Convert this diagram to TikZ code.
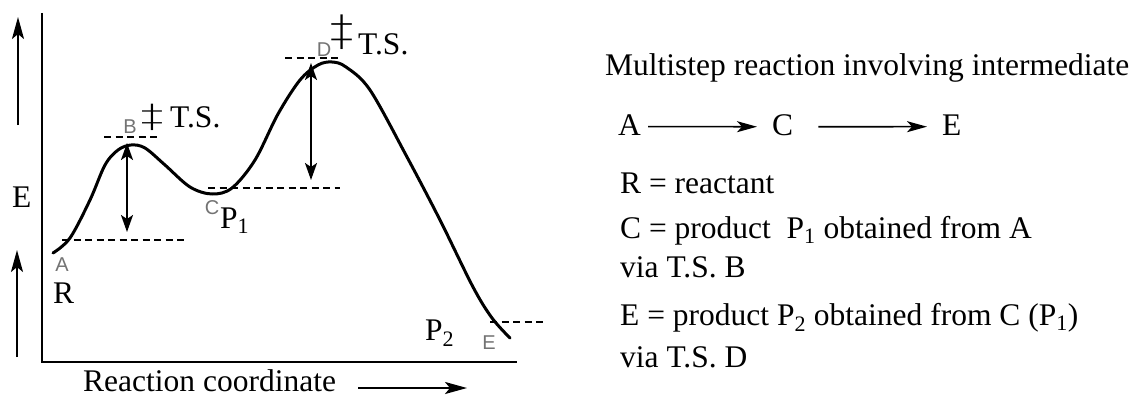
\documentclass[tikz,border=0pt]{standalone}
\usepackage{fontspec}
\setmainfont{Liberation Serif}
\newfontfamily\lblfont{Liberation Sans}
\newfontfamily\ddfont{DejaVu Sans ExtraLight}
\usetikzlibrary{arrows.meta}
\begin{document}
\begin{tikzpicture}[x=1pt,y=-1pt,
  lbl/.style={inner sep=0pt, anchor=base west, font=\fontsize{31.5}{37}\selectfont},
  ptlbl/.style={inner sep=0pt, font=\lblfont\fontsize{20}{21}\selectfont, text=black!55},
  ddlbl/.style={inner sep=0pt, font=\ddfont\fontsize{32}{32}\selectfont},
  curve/.style={line width=3pt, line cap=round, line join=round},
  level/.style={line width=1.4pt, dash pattern=on 7pt off 4.5pt},
  gap/.style={line width=2pt, {Stealth[length=17pt,width=12pt,inset=4pt]}-{Stealth[length=17pt,width=12pt,inset=4pt]}},
  axis/.style={line width=2pt},
  bigarrow/.style={line width=2.3pt, -{Stealth[length=22pt,width=12pt,inset=5pt]}},
  rxnarrow/.style={line width=1.6pt, -{Stealth[length=20pt,width=11pt,inset=5pt]}}
]
\useasboundingbox (0,0) rectangle (1139,396);

% axes
\coordinate (yTop) at (42,13);
\coordinate (orig) at (42,362);
\coordinate (xEnd) at (517,362);
\draw[axis] (yTop) -- (orig) -- (xEnd);

% left energy arrows
\coordinate (up1s) at (18,125); \coordinate (up1e) at (18,17);
\coordinate (up2s) at (17,357); \coordinate (up2e) at (17,250);
\draw[bigarrow] (up1s) -- (up1e);
\draw[bigarrow] (up2s) -- (up2e);

% energy profile
\draw[curve] plot[smooth, tension=0.55] coordinates {
 (53,253) (70,238) (90,200) (105,165) (118,150) (131,145) (145,148)
 (165,165) (190,187) (212,194) (232,188) (255,160) (278,114) (300,80)
 (318,65) (332,62) (346,67) (370,90) (407,157) (440,220) (473,287)
 (492,318) (510,338)};

% dashed energy levels
\coordinate (dA1) at (62,240);  \coordinate (dA2) at (185,240);
\coordinate (dB1) at (104,137); \coordinate (dB2) at (160,137);
\coordinate (dC1) at (208,188); \coordinate (dC2) at (340,188);
\coordinate (dD1) at (285,58);  \coordinate (dD2) at (338,58);
\coordinate (dE1) at (490,322); \coordinate (dE2) at (545,322);
\draw[level] (dA1) -- (dA2);
\draw[level] (dB1) -- (dB2);
\draw[level] (dC1) -- (dC2);
\draw[level] (dD1) -- (dD2);
\draw[level] (dE1) -- (dE2);

% activation arrows
\coordinate (bTop) at (127,143); \coordinate (bBot) at (127,232);
\coordinate (dTop) at (311,63);  \coordinate (dBot) at (311,180);
\draw[gap] (bTop) -- (bBot);
\draw[gap] (dTop) -- (dBot);

% point labels
\node[ptlbl] (lA) at (62,265) {A};
\node[ptlbl] (lB) at (130,127) {B};
\node[ptlbl] (lC) at (212,208) {C};
\node[ptlbl] (lD) at (324,50) {D};
\node[ptlbl] (lE) at (489,343) {E};

% transition state marks
\node[ddlbl] (ddB) at (152,117) {\scalebox{1.4}[1]{‡}};
\node[lbl] (tsB) at (170,127) {T.S.};
\node[ddlbl, font=\ddfont\fontsize{42}{42}\selectfont] (ddD) at (342,32) {\scalebox{1.1}[1]{‡}};
\node[lbl] (tsD) at (358,55) {T.S.};

% left labels
\node[lbl] (yE) at (12,207) {E};
\node[lbl] (R) at (53,303) {R};
\node[lbl] (P1) at (220,228) {P\textsubscript{1}};
\node[lbl] (P2) at (425,340) {P\textsubscript{2}};
\node[lbl] (rc) at (83,391) {Reaction coordinate};
\coordinate (rcS) at (358,388); \coordinate (rcE) at (467,388);
\draw[bigarrow] (rcS) -- (rcE);

% right side text
\node[lbl] (title) at (605,75) {Multistep reaction involving intermediate};
\node[lbl] (nA) at (618,135) {A};
\node[lbl] (nC) at (772,135) {C};
\node[lbl] (nE) at (942,135) {E};
\draw[rxnarrow] ([xshift=7pt,yshift=-2pt]nA.east) -- ([xshift=-15pt,yshift=-2pt]nC.west);
\draw[rxnarrow] ([xshift=25pt,yshift=-2pt]nC.east) -- ([xshift=-15pt,yshift=-2pt]nE.west);
\node[lbl] (defR) at (620,193) {R = reactant};
\node[lbl] (defC) at (620,238) {C = product\ \ P\textsubscript{1} obtained from A};
\node[lbl] (viaB) at (620,277) {via T.S. B};
\node[lbl] (defE) at (620,325) {E = product P\textsubscript{2} obtained from C (P\textsubscript{1})};
\node[lbl] (viaD) at (620,367) {via T.S. D};
\end{tikzpicture}
\end{document}
